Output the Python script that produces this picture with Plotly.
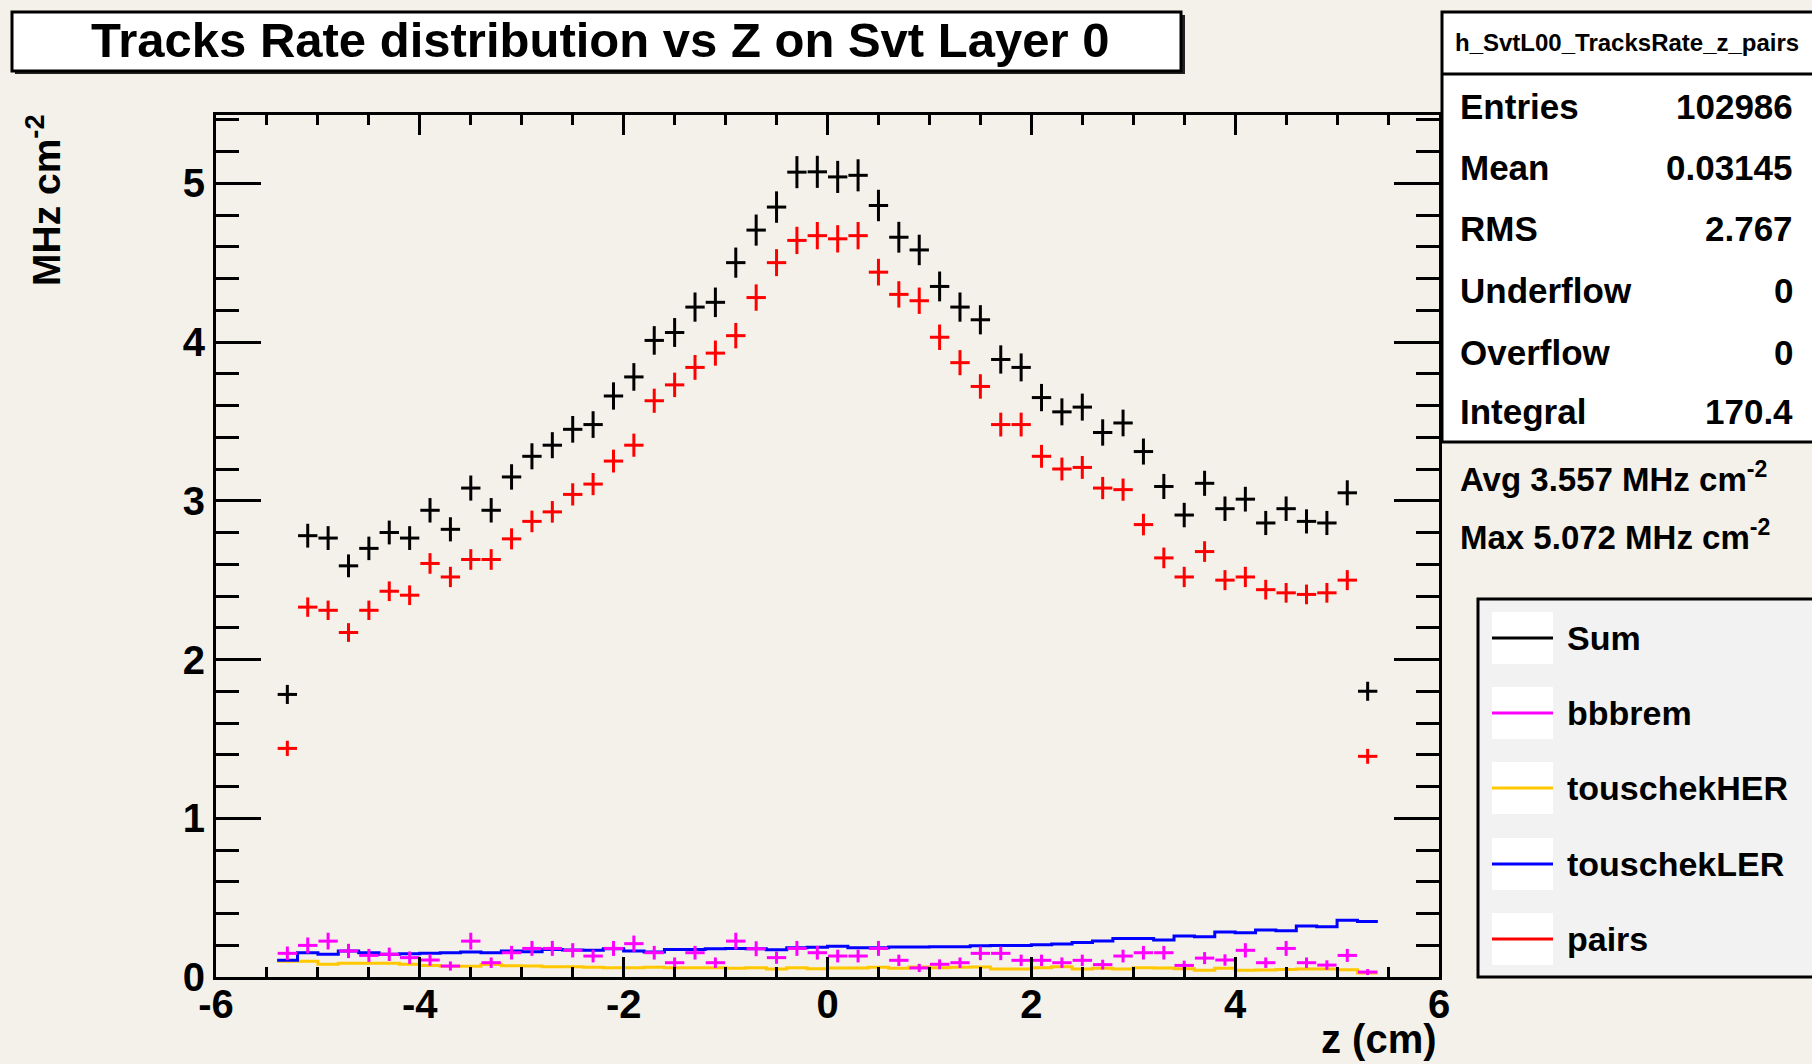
import plotly.graph_objects as go

# ---------------- data ----------------
z_centers = [-5.3, -5.1, -4.9, -4.7, -4.5, -4.3, -4.1, -3.9, -3.7, -3.5, -3.3, -3.1,
             -2.9, -2.7, -2.5, -2.3, -2.1, -1.9, -1.7, -1.5, -1.3, -1.1, -0.9, -0.7, -0.5, -0.3, -0.1,
             0.1, 0.3, 0.5, 0.7, 0.9, 1.1, 1.3, 1.5, 1.7, 1.9, 2.1, 2.3, 2.5, 2.7, 2.9,
             3.1, 3.3, 3.5, 3.7, 3.9, 4.1, 4.3, 4.5, 4.7, 4.9, 5.1, 5.3]
bin_half = 0.1

sum_rate = [1.78, 2.78, 2.765, 2.59, 2.70, 2.80, 2.765, 2.94, 2.82, 3.08, 2.94, 3.15,
            3.28, 3.35, 3.45, 3.48, 3.66, 3.78, 4.01, 4.06, 4.22, 4.25, 4.50, 4.705, 4.85, 5.07, 5.072,
            5.04, 5.05, 4.86, 4.66, 4.58, 4.35, 4.22, 4.14, 3.89, 3.84, 3.65, 3.56, 3.59, 3.43, 3.49,
            3.31, 3.09, 2.91, 3.11, 2.95, 3.01, 2.86, 2.95, 2.87, 2.86, 3.05, 1.80]
sum_err = [0.060, 0.075, 0.075, 0.072, 0.074, 0.075, 0.075, 0.077, 0.076, 0.079, 0.077, 0.080,
           0.082, 0.082, 0.084, 0.084, 0.086, 0.087, 0.090, 0.091, 0.092, 0.093, 0.095, 0.098, 0.099, 0.101, 0.101,
           0.101, 0.101, 0.099, 0.097, 0.096, 0.094, 0.092, 0.092, 0.089, 0.088, 0.086, 0.085, 0.085, 0.083, 0.084,
           0.082, 0.079, 0.077, 0.079, 0.077, 0.078, 0.076, 0.077, 0.076, 0.076, 0.079, 0.060]

pairs = [1.44, 2.33, 2.31, 2.17, 2.31, 2.43, 2.405, 2.605, 2.52, 2.63, 2.63, 2.76,
         2.87, 2.93, 3.04, 3.105, 3.25, 3.35, 3.63, 3.73, 3.84, 3.93, 4.04, 4.28, 4.50, 4.64, 4.67,
         4.65, 4.67, 4.44, 4.30, 4.26, 4.03, 3.87, 3.72, 3.48, 3.48, 3.28, 3.20, 3.21, 3.08, 3.07,
         2.85, 2.64, 2.52, 2.68, 2.50, 2.52, 2.44, 2.42, 2.41, 2.42, 2.50, 1.39]
pairs_err = [0.048, 0.061, 0.061, 0.059, 0.061, 0.062, 0.062, 0.065, 0.064, 0.065, 0.065, 0.066,
             0.068, 0.068, 0.070, 0.070, 0.072, 0.073, 0.076, 0.077, 0.078, 0.079, 0.080, 0.083, 0.085, 0.086, 0.086,
             0.086, 0.086, 0.084, 0.083, 0.083, 0.080, 0.079, 0.077, 0.075, 0.075, 0.072, 0.072, 0.072, 0.070, 0.070,
             0.068, 0.065, 0.064, 0.065, 0.063, 0.064, 0.062, 0.062, 0.062, 0.062, 0.063, 0.047]

bbbrem = [0.149, 0.199, 0.226, 0.164, 0.136, 0.143, 0.122, 0.107, 0.069, 0.226, 0.090, 0.153,
          0.180, 0.180, 0.168, 0.132, 0.180, 0.210, 0.153, 0.090, 0.153, 0.090, 0.226, 0.178, 0.122, 0.180, 0.153,
          0.132, 0.132, 0.180, 0.105, 0.057, 0.080, 0.090, 0.149, 0.149, 0.105, 0.105, 0.090, 0.105, 0.078, 0.132,
          0.153, 0.153, 0.073, 0.119, 0.107, 0.168, 0.090, 0.180, 0.090, 0.075, 0.136, 0.031]
bbbrem_err = [0.043, 0.050, 0.053, 0.045, 0.041, 0.042, 0.039, 0.036, 0.029, 0.053, 0.033, 0.043,
              0.047, 0.047, 0.045, 0.040, 0.047, 0.051, 0.043, 0.033, 0.043, 0.033, 0.053, 0.047, 0.039, 0.047, 0.043,
              0.040, 0.040, 0.047, 0.036, 0.026, 0.031, 0.033, 0.043, 0.043, 0.036, 0.036, 0.033, 0.036, 0.031, 0.040,
              0.043, 0.043, 0.030, 0.038, 0.036, 0.045, 0.033, 0.047, 0.033, 0.030, 0.041, 0.019]

touschek_ler = [0.105, 0.153, 0.143, 0.164, 0.153, 0.143, 0.147, 0.149, 0.153, 0.157, 0.153, 0.164,
                0.159, 0.174, 0.170, 0.168, 0.178, 0.164, 0.157, 0.174, 0.174, 0.178, 0.180, 0.178, 0.172, 0.184, 0.187,
                0.193, 0.184, 0.184, 0.189, 0.189, 0.191, 0.191, 0.197, 0.199, 0.199, 0.203, 0.208, 0.218, 0.226, 0.243,
                0.243, 0.233, 0.258, 0.254, 0.283, 0.279, 0.296, 0.291, 0.321, 0.317, 0.358, 0.350]

touschek_her = [0.100, 0.100, 0.080, 0.086, 0.086, 0.086, 0.080, 0.073, 0.067, 0.067, 0.078, 0.071,
                0.069, 0.065, 0.065, 0.061, 0.059, 0.059, 0.061, 0.059, 0.059, 0.059, 0.055, 0.059, 0.050, 0.059, 0.052,
                0.057, 0.057, 0.061, 0.055, 0.063, 0.059, 0.061, 0.063, 0.050, 0.050, 0.059, 0.065, 0.050, 0.055, 0.050,
                0.059, 0.057, 0.052, 0.042, 0.055, 0.042, 0.044, 0.048, 0.050, 0.050, 0.046, 0.025]

x_tickvals = [-6, -4, -2, 0, 2, 4, 6]
x_ticktext = ["-6", "-4", "-2", "0", "2", "4", "6"]
y_tickvals = [0, 1, 2, 3, 4, 5]
y_ticktext = ["0", "1", "2", "3", "4", "5"]

title_text = "Tracks Rate distribution vs Z on Svt Layer 0"
stats_name = "h_SvtL00_TracksRate_z_pairs"
stats_labels = ["Entries", "Mean", "RMS", "Underflow", "Overflow", "Integral"]
stats_values = ["102986", "0.03145", "2.767", "0", "0", "170.4"]
extra_lines = ["Avg 3.557 MHz cm<sup>-2</sup>", "Max 5.072 MHz cm<sup>-2</sup>"]
legend_names = ["Sum", "bbbrem", "touschekHER", "touschekLER", "pairs"]
legend_colors = ["#000000", "#FF00FF", "#FFC800", "#0000FF", "#FF0000"]
x_title = "z (cm)"
y_title = "MHz cm<sup>-2</sup>"
x_range = [-6, 6]
y_range = [0, 5.43]

# ---------------- geometry helpers ----------------
W, H = 1812, 1064
L, R, T, B = 216, 1439, 115, 977
BG = "#F4F1EA"
FONT = "Liberation Sans"


def pxx(xp):
    return (xp - L) / (R - L)


def pyy(yp):
    return (B - yp) / (B - T)


fig = go.Figure()

# step-line histograms (edges derived from bin centres)
edges = [c - bin_half for c in z_centers] + [z_centers[-1] + bin_half]


def step_trace(vals, color, name):
    return go.Scatter(x=edges, y=list(vals) + [vals[-1]], mode="lines", line_shape="hv",
                      line=dict(color=color, width=3), name=name, showlegend=False,
                      hoverinfo="skip")


fig.add_trace(step_trace(touschek_her, "#FFC800", "touschekHER"))
fig.add_trace(step_trace(touschek_ler, "#0000FF", "touschekLER"))


def cross_trace(vals, errs, color, name):
    return go.Scatter(x=z_centers, y=vals, mode="markers", name=name, showlegend=False,
                      marker=dict(size=2, color=color),
                      error_x=dict(type="constant", value=0.095, thickness=3, width=0, color=color),
                      error_y=dict(type="data", array=errs, thickness=3, width=0, color=color))


fig.add_trace(cross_trace(bbbrem, bbbrem_err, "#FF00FF", "bbbrem"))
fig.add_trace(cross_trace(pairs, pairs_err, "#FF0000", "pairs"))
fig.add_trace(cross_trace(sum_rate, sum_err, "#000000", "Sum"))

shapes = []
annotations = []

# title box with shadow
shapes.append(dict(type="rect", xref="paper", yref="paper", x0=pxx(15), x1=pxx(1185), y0=pyy(74), y1=pyy(15),
                   fillcolor="#222222", line=dict(width=0), layer="above"))
shapes.append(dict(type="rect", xref="paper", yref="paper", x0=pxx(12), x1=pxx(1181), y0=pyy(71), y1=pyy(12),
                   fillcolor="white", line=dict(color="black", width=3), layer="above"))
annotations.append(dict(text=title_text, xref="paper", yref="paper", x=pxx(600), y=pyy(40),
                        xanchor="center", yanchor="middle", showarrow=False,
                        font=dict(family=FONT, size=49, color="black", weight="bold")))

# stats box
shapes.append(dict(type="rect", xref="paper", yref="paper", x0=pxx(1442), x1=pxx(1830), y0=pyy(442), y1=pyy(12),
                   fillcolor="white", line=dict(color="black", width=3), layer="above"))
shapes.append(dict(type="line", xref="paper", yref="paper", x0=pxx(1442), x1=pxx(1830), y0=pyy(74), y1=pyy(74),
                   line=dict(color="black", width=3), layer="above"))
annotations.append(dict(text=stats_name, xref="paper", yref="paper", x=pxx(1627), y=pyy(43),
                        xanchor="center", yanchor="middle", showarrow=False,
                        font=dict(family=FONT, size=24, color="black", weight="bold")))
row_y = [107, 167, 229, 290, 352, 411]
for lab, val, ry in zip(stats_labels, stats_values, row_y):
    annotations.append(dict(text=lab, xref="paper", yref="paper", x=pxx(1458), y=pyy(ry),
                            xanchor="left", yanchor="middle", showarrow=False,
                            font=dict(family=FONT, size=35, color="black", weight="bold")))
    annotations.append(dict(text=val, xref="paper", yref="paper", x=pxx(1795), y=pyy(ry),
                            xanchor="right", yanchor="middle", showarrow=False,
                            font=dict(family=FONT, size=35, color="black", weight="bold")))
for txt, ry in zip(extra_lines, [477, 535]):
    annotations.append(dict(text=txt, xref="paper", yref="paper", x=pxx(1458), y=pyy(ry),
                            xanchor="left", yanchor="middle", showarrow=False,
                            font=dict(family=FONT, size=33, color="black", weight="bold")))

# legend box
shapes.append(dict(type="rect", xref="paper", yref="paper", x0=pxx(1478), x1=pxx(1830), y0=pyy(977), y1=pyy(599),
                   fillcolor="#F2F2F2", line=dict(color="black", width=3), layer="above"))
leg_y = [638, 713, 788, 864, 939]
for name, col, ly in zip(legend_names, legend_colors, leg_y):
    shapes.append(dict(type="rect", xref="paper", yref="paper", x0=pxx(1492), x1=pxx(1553),
                       y0=pyy(ly + 26), y1=pyy(ly - 26), fillcolor="white", line=dict(width=0), layer="above"))
    shapes.append(dict(type="line", xref="paper", yref="paper", x0=pxx(1492), x1=pxx(1553),
                       y0=pyy(ly), y1=pyy(ly), line=dict(color=col, width=3), layer="above"))
    annotations.append(dict(text=name, xref="paper", yref="paper", x=pxx(1565), y=pyy(ly),
                            xanchor="left", yanchor="middle", showarrow=False,
                            font=dict(family=FONT, size=34, color="black", weight="bold")))

# axis titles
annotations.append(dict(text=x_title, xref="paper", yref="paper", x=1.0, y=pyy(1039),
                        xanchor="right", yanchor="middle", showarrow=False,
                        font=dict(family=FONT, size=40, color="black", weight="bold")))
annotations.append(dict(text=y_title, xref="paper", yref="paper", x=pxx(43), y=pyy(200),
                        xanchor="center", yanchor="middle", showarrow=False, textangle=-90,
                        font=dict(family=FONT, size=39, color="black", weight="bold")))

fig.update_layout(
    width=W, height=H, autosize=False,
    margin=dict(l=L, r=W - R, t=T, b=H - B),
    paper_bgcolor=BG, plot_bgcolor=BG,
    showlegend=False,
    shapes=shapes, annotations=annotations,
    font=dict(family=FONT, color="black"),
)

fig.update_xaxes(range=x_range, showgrid=False, zeroline=False, showline=True, linecolor="black", linewidth=3,
                 mirror="allticks", ticks="inside", ticklen=20, tickwidth=3, tickcolor="black",
                 tickmode="array", tickvals=x_tickvals, ticktext=x_ticktext, ticklabelstandoff=-10,
                 minor=dict(ticks="inside", ticklen=10, tickwidth=3, tickcolor="black",
                            tickmode="linear", tick0=-6, dtick=0.5, showgrid=False),
                 tickfont=dict(family=FONT, size=40, color="black", weight="bold"))
fig.update_yaxes(range=y_range, showgrid=False, zeroline=False, showline=True, linecolor="black", linewidth=3,
                 mirror="allticks", ticks="inside", ticklen=45, tickwidth=3, tickcolor="black",
                 tickmode="array", tickvals=y_tickvals, ticktext=y_ticktext,
                 minor=dict(ticks="inside", ticklen=23, tickwidth=3, tickcolor="black",
                            tickmode="linear", tick0=0, dtick=0.2, showgrid=False),
                 tickfont=dict(family=FONT, size=40, color="black", weight="bold"))

fig.write_html("out.html")
